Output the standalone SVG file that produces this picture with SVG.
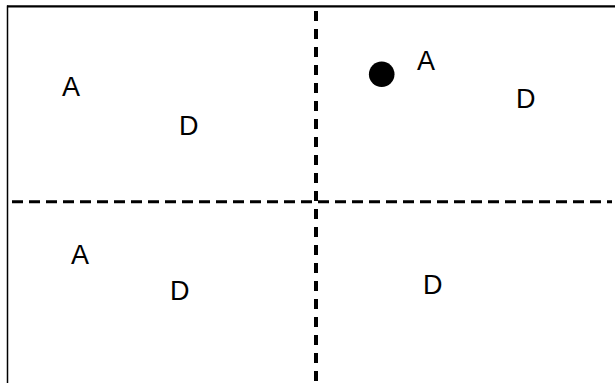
<svg xmlns="http://www.w3.org/2000/svg" width="615" height="383" viewBox="0 0 615 383">
<style>
.t{font-family:"Liberation Sans",Arial,sans-serif;font-size:27px;fill:#000}
.dash{stroke:#000;fill:none}
</style>
<rect width="615" height="383" fill="#fff"/>
<g id="frame">
<line x1="7.5" y1="5.5" x2="7.5" y2="383" stroke="#000" stroke-width="1.5"/>
<line x1="7" y1="6.3" x2="615" y2="6.3" stroke="#000" stroke-width="2.2"/>
</g>
<g id="connectors">
<line class="dash" x1="12" y1="201.8" x2="612" y2="201.8" stroke-width="3" stroke-dasharray="11,6"/>
<line class="dash" x1="316" y1="11" x2="316" y2="383" stroke-width="4" stroke-dasharray="10,8"/>
</g>
<g id="q1">
<text class="t" x="62" y="96">A</text>
<text class="t" x="179" y="135">D</text>
</g>
<g id="q2">
<circle cx="381.7" cy="74.2" r="12.8" fill="#000"/>
<text class="t" x="417" y="70">A</text>
<text class="t" x="516" y="108">D</text>
</g>
<g id="q3">
<text class="t" x="71" y="264">A</text>
<text class="t" x="170" y="300">D</text>
</g>
<g id="q4">
<text class="t" x="423" y="294">D</text>
</g>
</svg>
